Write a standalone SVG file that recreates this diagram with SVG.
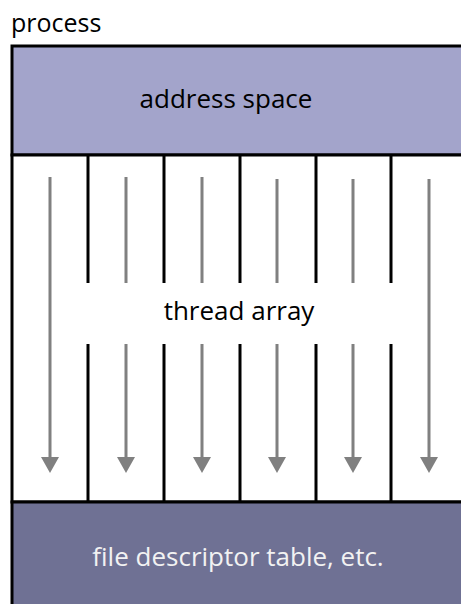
<svg xmlns="http://www.w3.org/2000/svg" width="461" height="604" viewBox="0 0 461 604">
<defs>
<style>
.lbl{font-family:"Open Sans","Liberation Sans",sans-serif;font-size:26px}
.div{stroke:#000;stroke-width:3}
.arr{stroke:#808080;stroke-width:3}
.head{fill:#808080}
</style>
</defs>
<rect width="461" height="604" fill="#fff"/>
<g id="process-label"><text class="lbl" x="11" y="32" fill="#000" style="font-size:25px">process</text></g>
<g id="address-space">
<rect x="12" y="46" width="460" height="109" fill="#a3a4cb" stroke="#000" stroke-width="3"/>
<text class="lbl" x="226" y="108" text-anchor="middle" fill="#000">address space</text>
</g>
<g id="thread-array">
<rect x="12" y="155" width="460" height="347" fill="#fff" stroke="#000" stroke-width="3"/>
<text class="lbl" x="239" y="320" text-anchor="middle" fill="#000">thread array</text>
</g>
<g id="file-descriptor-table">
<rect x="12" y="502" width="460" height="110" fill="#6f7194" stroke="#000" stroke-width="3"/>
<text class="lbl" x="238" y="566" text-anchor="middle" fill="#f2f2f2">file descriptor table, etc.</text>
</g>
<g id="connectors">
<g id="dividers">
<path class="div" d="M88 155V283M88 344V502M164 155V283M164 344V502M240 155V283M240 344V502M316 155V283M316 344V502M391 155V283M391 344V502"/>
</g>
<g id="arrows">
<path class="arr" d="M50 177V458M126 177V283M126 344V458M202 177V283M202 344V458M277 179V283M277 344V458M353 179V283M353 344V458M429 179V458"/>
<path class="head" d="M41 457h18l-9 16zM117 457h18l-9 16zM193 457h18l-9 16zM268 457h18l-9 16zM344 457h18l-9 16zM420 457h18l-9 16z"/>
</g>
</g>
</svg>
